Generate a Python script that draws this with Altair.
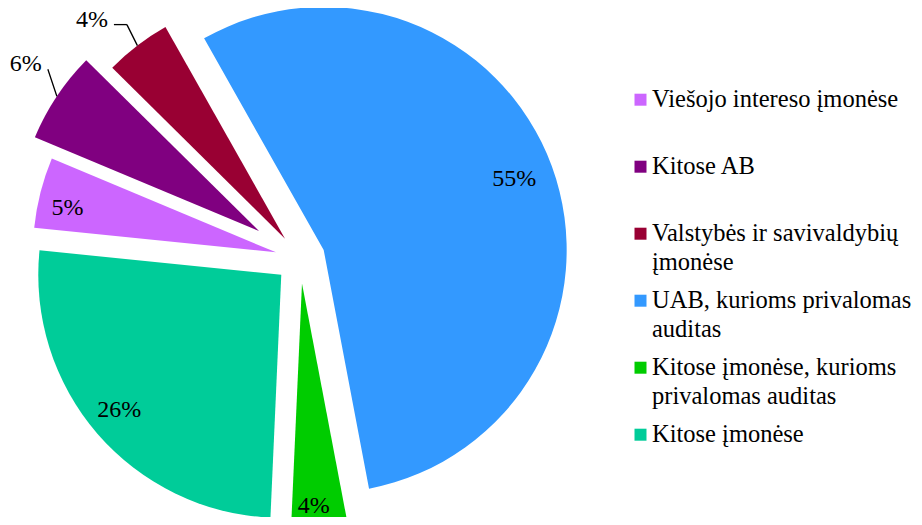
import math
import altair as alt
import pandas as pd

# ---- data ----
cats = [
    "Viešojo intereso įmonėse",
    "Kitose AB",
    "Valstybės ir savivaldybių įmonėse",
    "UAB, kurioms privalomas auditas",
    "Kitose įmonėse, kurioms privalomas auditas",
    "Kitose įmonėse",
]
legend_labels = [
    "Viešojo intereso įmonėse",
    "Kitose AB",
    "Valstybės ir savivaldybių\nįmonėse",
    "UAB, kurioms privalomas\nauditas",
    "Kitose įmonėse, kurioms\nprivalomas auditas",
    "Kitose įmonėse",
]
values = [4.7, 6.1, 4.4, 55.2, 3.7, 25.9]
pct_labels = ["5%", "6%", "4%", "55%", "4%", "26%"]

# ---- styles ----
colors = ["#CC66FF", "#800080", "#990033", "#3399FF", "#00CC00", "#00CC99"]
explode = [25, 49.5, 25, 25, 25, 25]
label_r = [213.4, 0, 0, 203.6, 221.9, 210.4]
label_da = [-1.95, 0, 0, -0.55, 1.05, 1.2]      # degrees, label angle tweak
label_out = [0, 1, 1, 0, 0, 0]
lead_dx = [0, -9, -10.5, 0, 0, 0]
lead_dy = [0, -27, -21, 0, 0, 0]
hook = [0, 0, 13, 0, 0, 0]

PAD_TOP = 3
W, H = 906, 509 - PAD_TOP
CX, CY, R = 292.2, 250.5 - PAD_TOP, 243
A0 = math.radians(275.8)
LEG_SX, LEG_TX, LEG_Y0, LEG_STEP = 632.5, 644, 91.7 - PAD_TOP, 67
FONT = "Liberation Serif"

df = pd.DataFrame({
    "idx": list(range(len(cats))),
    "cat": cats,
    "leg": legend_labels,
    "value": values,
    "pct": pct_labels,
    "ex": explode,
    "lr": label_r,
    "lda": label_da,
    "out": label_out,
    "ldx": lead_dx,
    "ldy": lead_dy,
    "hook": hook,
})

xs = alt.Scale(domain=[0, W], nice=False, zero=False)
ys = alt.Scale(domain=[0, H], nice=False, zero=False, reverse=True)
cs = alt.Scale(domain=cats, range=colors)

base = alt.Chart(df).transform_window(
    cum="sum(value)", frame=[None, 0], sort=[alt.SortField("idx")]
).transform_calculate(
    start="datum.cum - datum.value",
    a=f"{A0} + 2*PI*(datum.cum - datum.value/2)/100",
    la="datum.a + datum.lda*PI/180",
    px=f"{CX} + datum.ex*sin(datum.a)",
    py=f"{CY} - datum.ex*cos(datum.a)",
    lx="datum.px + datum.lr*sin(datum.la)",
    ly="datum.py - datum.lr*cos(datum.la) + 1",
    ox=f"datum.px + {R}*sin(datum.a)",
    oy=f"datum.py - {R}*cos(datum.a)",
    ex2="datum.ox + datum.ldx",
    ey2="datum.oy + datum.ldy",
    hx="datum.ex2 - datum.hook",
    tx="datum.hx - 6",
    ty="datum.ey2 - 5",
    legy=f"{LEG_Y0} + datum.idx*{LEG_STEP}",
    legty=f"{LEG_Y0} + datum.idx*{LEG_STEP} + 7.6",
)

arcs = base.mark_arc(radius=R).encode(
    x=alt.X("px:Q", scale=xs, axis=None),
    y=alt.Y("py:Q", scale=ys, axis=None),
    theta=alt.Theta("start:Q", scale=alt.Scale(domain=[0, 100], range=[A0, A0 + 2 * math.pi])),
    theta2=alt.Theta2("cum:Q"),
    color=alt.Color("cat:N", scale=cs, legend=None),
)

inner = base.transform_filter("datum.out == 0").mark_text(
    font=FONT, fontSize=24, color="black", align="center", baseline="middle"
).encode(
    x=alt.X("lx:Q", scale=xs, axis=None),
    y=alt.Y("ly:Q", scale=ys, axis=None),
    text="pct:N",
)

lead1 = base.transform_filter("datum.out == 1").mark_rule(color="black", strokeWidth=1.3).encode(
    x=alt.X("ox:Q", scale=xs, axis=None),
    y=alt.Y("oy:Q", scale=ys, axis=None),
    x2="ex2:Q",
    y2="ey2:Q",
)

lead2 = base.transform_filter("datum.out == 1 && datum.hook > 0").mark_rule(color="black", strokeWidth=1.3).encode(
    x=alt.X("ex2:Q", scale=xs, axis=None),
    y=alt.Y("ey2:Q", scale=ys, axis=None),
    x2="hx:Q",
    y2="ey2:Q",
)

outer = base.transform_filter("datum.out == 1").mark_text(
    font=FONT, fontSize=24, color="black", align="right", baseline="middle"
).encode(
    x=alt.X("tx:Q", scale=xs, axis=None),
    y=alt.Y("ty:Q", scale=ys, axis=None),
    text="pct:N",
)

leg_sym = base.mark_square(size=144, opacity=1, filled=True).encode(
    x=alt.X("lsx:Q", scale=xs, axis=None),
    y=alt.Y("legy:Q", scale=ys, axis=None),
    color=alt.Color("cat:N", scale=cs, legend=None),
).transform_calculate(lsx=f"{LEG_SX}")

leg_txt = base.mark_text(
    font=FONT, fontSize=24.5, color="black", align="left", baseline="alphabetic",
    lineBreak="\n", lineHeight=28.6,
).encode(
    x=alt.X("ltx:Q", scale=xs, axis=None),
    y=alt.Y("legty:Q", scale=ys, axis=None),
    text="leg:N",
).transform_calculate(ltx=f"{LEG_TX}")

chart = alt.layer(arcs, inner, lead1, lead2, outer, leg_sym, leg_txt).properties(
    width=W, height=H, background="white",
    padding={"top": PAD_TOP, "left": 0, "right": 0, "bottom": 0},
    autosize=alt.AutoSizeParams(type="none"),
).configure_view(stroke=None)

chart.save("out.html", embed_options={"renderer": "svg", "actions": False})
